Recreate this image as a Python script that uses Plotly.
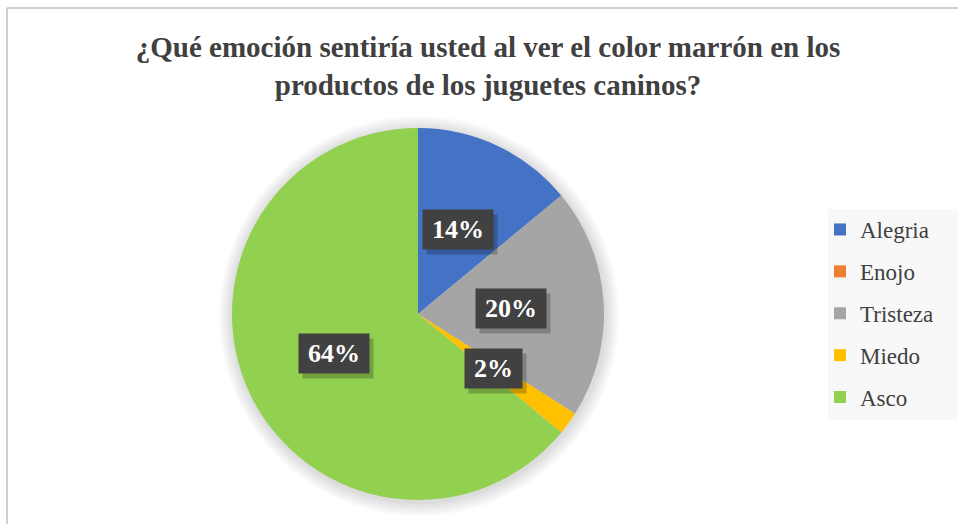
import math
import plotly.graph_objects as go

# Survey answers
categories = ["Alegria", "Enojo", "Tristeza", "Miedo", "Asco"]
percentages = [14, 0, 20, 2, 64]
colors = ["#4472C4", "#ED7D31", "#A5A5A5", "#FFC000", "#92D050"]

title_text = ("¿Qué emoción sentiría usted al ver el color marrón en los"
              "<br>productos de los juguetes caninos?")

SERIF = "Liberation Serif, Times New Roman, Tinos, serif"

W, H = 958, 524
CX, CY, R = 418, 314, 186          # pie centre / radius in pixels
LABEL_R = 0.5                       # label distance as a fraction of the radius


def px(x):
    return x / W


def py(y):
    return 1 - y / H


fig = go.Figure()

# soft glow/shadow around the pie, built from stacked translucent discs
for i in range(7):
    grow = 2 + 2 * i
    ox, oy = 1, 2
    fig.add_trace(go.Pie(
        values=[1], labels=["s"], sort=False, showlegend=False,
        hoverinfo="skip", textinfo="none",
        marker=dict(colors=["rgba(0,0,0,0.018)"], line=dict(width=0)),
        domain=dict(x=[px(CX + ox - R - grow), px(CX + ox + R + grow)],
                    y=[py(CY + oy + R + grow), py(CY + oy - R - grow)]),
    ))

fig.add_trace(go.Pie(
    labels=categories, values=percentages, sort=False,
    direction="clockwise", rotation=0,
    marker=dict(colors=colors, line=dict(width=0)),
    textinfo="none", hoverinfo="label+percent", showlegend=False,
    domain=dict(x=[px(CX - R), px(CX + R)], y=[py(CY + R), py(CY - R)]),
))

# legend entries
for name, col in zip(categories, colors):
    fig.add_trace(go.Scatter(
        x=[None], y=[None], mode="markers", name=name, legendgroup=name,
        marker=dict(symbol="square", size=12, color=col),
    ))

# percentage labels in dark boxes, placed along each slice's mid-angle
total = sum(percentages)
annotations = []
cum = 0
for v in percentages:
    mid = (cum + v / 2) / total * 2 * math.pi
    cum += v
    if v == 0:
        continue
    lx = CX + LABEL_R * R * math.sin(mid)
    ly = CY - LABEL_R * R * math.cos(mid)
    text = f"{round(v / total * 100)}%"
    bw = 57 if len(text) == 2 else 70
    common = dict(xref="paper", yref="paper", xanchor="center",
                  yanchor="middle", showarrow=False, width=bw, height=39,
                  borderpad=0)
    annotations.append(dict(
        x=px(lx + 4), y=py(ly + 5), text=" ",
        bgcolor="rgba(0,0,0,0.22)", **common,
    ))
    annotations.append(dict(
        x=px(lx), y=py(ly), text=f"<b>{text}</b>", bgcolor="#414141",
        font=dict(family=SERIF, size=26, color="#FFFFFF"), **common,
    ))

shapes = [
    # chart frame
    dict(type="line", xref="paper", yref="paper",
         x0=px(7), x1=px(7), y0=py(8), y1=0,
         line=dict(color="#CFCFCF", width=2)),
    dict(type="line", xref="paper", yref="paper",
         x0=px(7), x1=1, y0=py(8), y1=py(8),
         line=dict(color="#CFCFCF", width=2)),
    # legend panel
    dict(type="rect", xref="paper", yref="paper", layer="below",
         x0=px(828), x1=1, y0=py(420), y1=py(209),
         fillcolor="#F8F8F8", line=dict(width=0)),
]

fig.update_layout(
    width=W, height=H, autosize=False,
    margin=dict(l=0, r=0, t=0, b=0),
    paper_bgcolor="#FFFFFF", plot_bgcolor="rgba(0,0,0,0)",
    xaxis=dict(visible=False), yaxis=dict(visible=False),
    title=dict(
        text=f"<b>{title_text}</b>", x=px(488), xanchor="center",
        y=py(57), yanchor="middle",
        font=dict(family=SERIF, size=29, color="#404040"),
    ),
    legend=dict(
        x=px(820), xanchor="left", y=py(208), yanchor="top",
        traceorder="grouped", tracegroupgap=9, itemwidth=30,
        bgcolor="rgba(0,0,0,0)",
        font=dict(family=SERIF, size=23, color="#404040"),
        itemclick=False, itemdoubleclick=False,
    ),
    annotations=annotations,
    shapes=shapes,
)

fig.write_html("out.html")
